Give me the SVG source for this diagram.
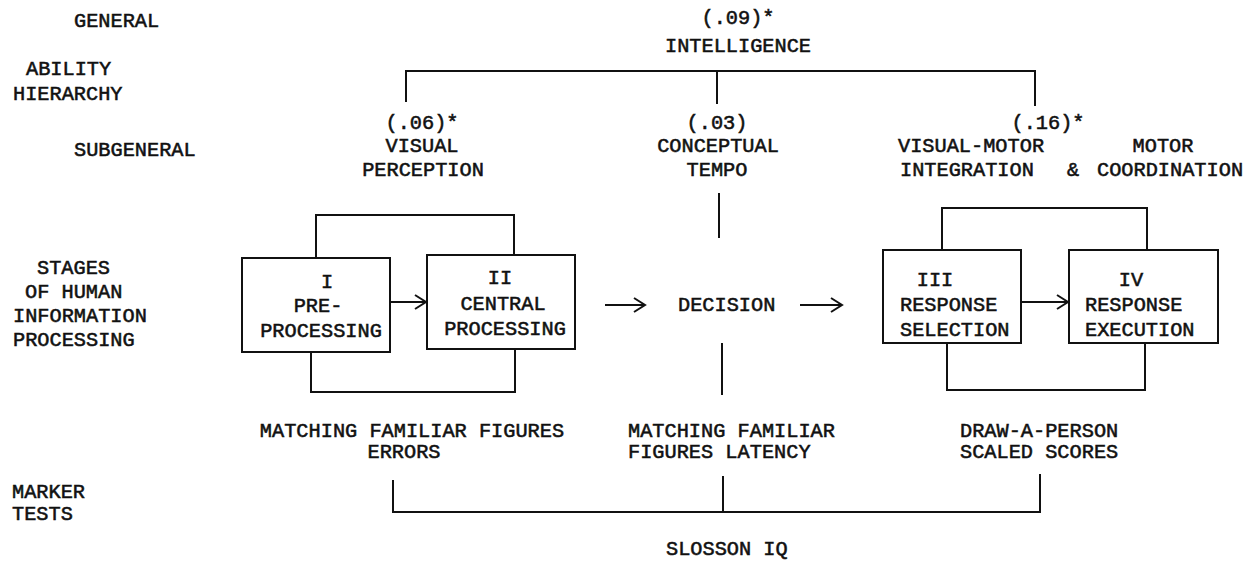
<svg xmlns="http://www.w3.org/2000/svg" width="1249" height="562" viewBox="0 0 1249 562">
<defs>
<marker id="arr" markerUnits="userSpaceOnUse" markerWidth="14" markerHeight="16" refX="12" refY="8" orient="auto">
<path d="M1,1 L12,8 L1,15" fill="none" stroke="#111" stroke-width="2"/>
</marker>
<style>
text{font-family:"Liberation Mono","Courier New",monospace;font-size:20.3px;fill:#111;stroke:#111;stroke-width:0.55}
.m{text-anchor:middle}
.box{fill:none;stroke:#111;stroke-width:2}
.ln{fill:none;stroke:#111;stroke-width:2}
</style>
</defs>
<rect width="1249" height="562" fill="#fff"/>
<g id="labels">
<text x="74" y="27">GENERAL</text>
<text x="26" y="75">ABILITY</text>
<text x="13" y="100">HIERARCHY</text>
<text x="74" y="156">SUBGENERAL</text>
<text x="37" y="274">STAGES</text>
<text x="25" y="298">OF HUMAN</text>
<text x="13" y="322">INFORMATION</text>
<text x="13" y="346">PROCESSING</text>
<text x="12" y="498">MARKER</text>
<text x="12" y="520">TESTS</text>
</g>
<g id="intelligence">
<text class="m" x="738" y="24">(.09)*</text>
<text class="m" x="738" y="52">INTELLIGENCE</text>
</g>
<g id="visual-perception">
<text class="m" x="422" y="129">(.06)*</text>
<text class="m" x="422" y="152">VISUAL</text>
<text class="m" x="423" y="176">PERCEPTION</text>
</g>
<g id="conceptual-tempo">
<text class="m" x="717" y="129">(.03)</text>
<text class="m" x="718" y="152">CONCEPTUAL</text>
<text class="m" x="717" y="176">TEMPO</text>
</g>
<g id="visual-motor">
<text class="m" x="1048" y="129">(.16)*</text>
<text x="898" y="152">VISUAL-MOTOR</text>
<text x="900" y="176">INTEGRATION</text>
<text class="m" x="1073" y="176">&amp;</text>
<text class="m" x="1163" y="152">MOTOR</text>
<text x="1097" y="176">COORDINATION</text>
</g>
<g id="stage-1">
<rect class="box" x="242" y="258" width="148" height="94"/>
<text class="m" x="327" y="288">I</text>
<text class="m" x="318" y="312">PRE-</text>
<text class="m" x="321" y="337">PROCESSING</text>
</g>
<g id="stage-2">
<rect class="box" x="427" y="255" width="148" height="94"/>
<text class="m" x="500" y="284">II</text>
<text class="m" x="503" y="310">CENTRAL</text>
<text class="m" x="505" y="335">PROCESSING</text>
</g>
<g id="decision">
<text x="678" y="311">DECISION</text>
</g>
<g id="stage-3">
<rect class="box" x="883" y="250" width="138" height="93"/>
<text class="m" x="935" y="286">III</text>
<text x="900" y="311">RESPONSE</text>
<text x="900" y="336">SELECTION</text>
</g>
<g id="stage-4">
<rect class="box" x="1069" y="250" width="149" height="93"/>
<text class="m" x="1131" y="286">IV</text>
<text x="1085" y="311">RESPONSE</text>
<text x="1085" y="336">EXECUTION</text>
</g>
<g id="mff-errors">
<text class="m" x="412" y="437">MATCHING FAMILIAR FIGURES</text>
<text class="m" x="404" y="458">ERRORS</text>
</g>
<g id="mff-latency">
<text x="628" y="437">MATCHING FAMILIAR</text>
<text x="628" y="458">FIGURES LATENCY</text>
</g>
<g id="draw-a-person">
<text x="960" y="437">DRAW-A-PERSON</text>
<text x="960" y="458">SCALED SCORES</text>
</g>
<g id="slosson">
<text x="666" y="555">SLOSSON IQ</text>
</g>
<g id="connectors">
<path class="ln" d="M406,102 V71 H1035 V106"/>
<path class="ln" d="M717,71 V104"/>
<path class="ln" d="M316,258 V215 H514 V255"/>
<path class="ln" d="M311,352 V392 H515 V349"/>
<path class="ln" d="M390,302 H426" marker-end="url(#arr)"/>
<path class="ln" d="M605,305 H645" marker-end="url(#arr)"/>
<path class="ln" d="M800,305 H842" marker-end="url(#arr)"/>
<path class="ln" d="M1021,302 H1068" marker-end="url(#arr)"/>
<path class="ln" d="M719,193 V238"/>
<path class="ln" d="M722,343 V395"/>
<path class="ln" d="M942,250 V208 H1147 V250"/>
<path class="ln" d="M947,343 V390 H1145 V343"/>
<path class="ln" d="M393,480 V512 H1040 V474"/>
<path class="ln" d="M723,476 V512"/>
</g>
</svg>
